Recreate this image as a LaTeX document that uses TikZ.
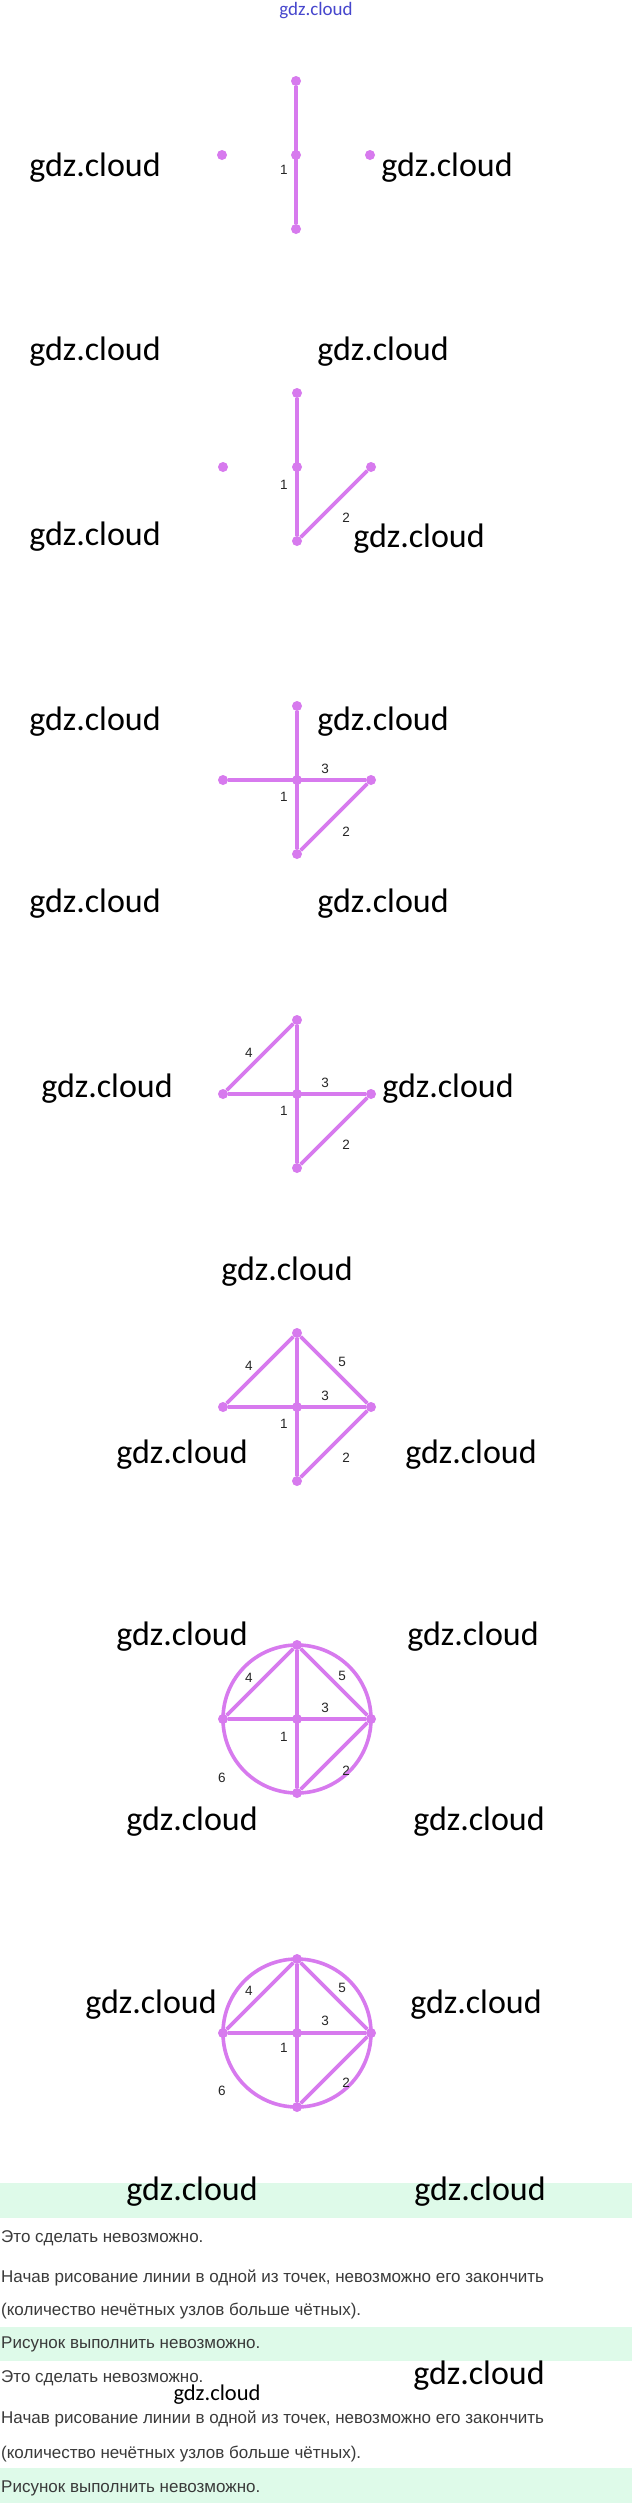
\documentclass[tikz,border=0pt]{standalone}
\usepackage{fontspec}
\setmainfont{Liberation Sans}
\newfontfamily\carlito{Carlito}
\usetikzlibrary{positioning}

\definecolor{lilac}{RGB}{215,122,238}
\definecolor{bandgreen}{RGB}{222,250,233}
\definecolor{notegray}{RGB}{58,58,58}
\definecolor{topblue}{RGB}{70,70,205}

\newcommand{\wmfont}{\carlito\fontsize{34}{34}\selectfont}
\newcommand{\wmsmall}{\carlito\fontsize{22.5}{23}\selectfont}
\newcommand{\wmtop}{\carlito\fontsize{19}{19}\selectfont}
\newcommand{\numfont}{\fontsize{13.5}{14}\selectfont}
\newcommand{\notefont}{\fontsize{17}{18}\selectfont}

\begin{document}
\begin{tikzpicture}[x=1pt, y=1pt, node distance=74pt]
        \tikzstyle{dot}=[circle, fill=lilac, inner sep=0pt, minimum size=10pt]
        \tikzstyle{edge}=[draw=lilac, line width=3.6pt]
        \tikzstyle{num}=[font=\numfont, text=black!85, inner sep=0pt]
        \tikzstyle{wmark}=[font=\wmfont, anchor=base, inner sep=0pt]
        \tikzstyle{note}=[font=\notefont, text=notegray, anchor=base west, inner sep=0pt]

        \path[use as bounding box, fill=white] (0,0) rectangle (632,-2503);

        % green answer bands
        \fill[bandgreen] (0,-2183) rectangle (632,-2218);
        \fill[bandgreen] (0,-2327) rectangle (632,-2361);
        \fill[bandgreen] (0,-2468) rectangle (632,-2503);

        \node[font=\wmtop, text=topblue, inner sep=0pt] (wm0) at (316,-11) {gdz.cloud};

        % step 1
        \node[dot] (mid1) at (296,-155) {};
        \node[dot, above of=mid1] (top1) {};
        \node[dot, below of=mid1] (bot1) {};
        \node[dot, left of=mid1] (lft1) {};
        \node[dot, right of=mid1] (rgt1) {};
        \draw[edge] (top1) -- (bot1);
        \node[num, xshift=-12pt, yshift=-15pt] (n1a) at (mid1) {1};

        % step 2
        \node[dot] (mid2) at (297,-467) {};
        \node[dot, above of=mid2] (top2) {};
        \node[dot, below of=mid2] (bot2) {};
        \node[dot, left of=mid2] (lft2) {};
        \node[dot, right of=mid2] (rgt2) {};
        \draw[edge] (top2) -- (bot2);
        \draw[edge] (bot2) -- (rgt2);
        \node[num, xshift=-13pt, yshift=-18pt] (n2a) at (mid2) {1};
        \node[num, xshift=49pt, yshift=-51pt] (n2b) at (mid2) {2};

        % step 3
        \node[dot] (mid3) at (297,-780) {};
        \node[dot, above of=mid3] (top3) {};
        \node[dot, below of=mid3] (bot3) {};
        \node[dot, left of=mid3] (lft3) {};
        \node[dot, right of=mid3] (rgt3) {};
        \draw[edge] (top3) -- (bot3);
        \draw[edge] (bot3) -- (rgt3);
        \draw[edge] (lft3) -- (rgt3);
        \node[num, xshift=-13pt, yshift=-17pt] (n3a) at (mid3) {1};
        \node[num, xshift=49pt, yshift=-52pt] (n3b) at (mid3) {2};
        \node[num, xshift=28pt, yshift=11pt] (n3c) at (mid3) {3};

        % step 4
        \node[dot] (mid4) at (297,-1094) {};
        \node[dot, above of=mid4] (top4) {};
        \node[dot, below of=mid4] (bot4) {};
        \node[dot, left of=mid4] (lft4) {};
        \node[dot, right of=mid4] (rgt4) {};
        \draw[edge] (top4) -- (bot4);
        \draw[edge] (bot4) -- (rgt4);
        \draw[edge] (lft4) -- (rgt4);
        \draw[edge] (lft4) -- (top4);
        \node[num, xshift=-13pt, yshift=-17pt] (n4a) at (mid4) {1};
        \node[num, xshift=49pt, yshift=-51pt] (n4b) at (mid4) {2};
        \node[num, xshift=28pt, yshift=11pt] (n4c) at (mid4) {3};
        \node[num, xshift=-48pt, yshift=41pt] (n4d) at (mid4) {4};

        % step 5
        \node[dot] (mid5) at (297,-1407) {};
        \node[dot, above of=mid5] (top5) {};
        \node[dot, below of=mid5] (bot5) {};
        \node[dot, left of=mid5] (lft5) {};
        \node[dot, right of=mid5] (rgt5) {};
        \draw[edge] (top5) -- (bot5);
        \draw[edge] (bot5) -- (rgt5);
        \draw[edge] (lft5) -- (rgt5);
        \draw[edge] (lft5) -- (top5);
        \draw[edge] (top5) -- (rgt5);
        \node[num, xshift=-13pt, yshift=-17pt] (n5a) at (mid5) {1};
        \node[num, xshift=49pt, yshift=-51pt] (n5b) at (mid5) {2};
        \node[num, xshift=28pt, yshift=11pt] (n5c) at (mid5) {3};
        \node[num, xshift=-48pt, yshift=41pt] (n5d) at (mid5) {4};
        \node[num, xshift=45pt, yshift=45pt] (n5e) at (mid5) {5};

        % step 6
        \node[dot] (mid6) at (297,-1719) {};
        \node[dot, above of=mid6] (top6) {};
        \node[dot, below of=mid6] (bot6) {};
        \node[dot, left of=mid6] (lft6) {};
        \node[dot, right of=mid6] (rgt6) {};
        \draw[edge] (mid6) circle (74pt);
        \draw[edge] (top6) -- (bot6);
        \draw[edge] (bot6) -- (rgt6);
        \draw[edge] (lft6) -- (rgt6);
        \draw[edge] (lft6) -- (top6);
        \draw[edge] (top6) -- (rgt6);
        \node[num, xshift=-13pt, yshift=-18pt] (n6a) at (mid6) {1};
        \node[num, xshift=49pt, yshift=-52pt] (n6b) at (mid6) {2};
        \node[num, xshift=28pt, yshift=11pt] (n6c) at (mid6) {3};
        \node[num, xshift=-48pt, yshift=41pt] (n6d) at (mid6) {4};
        \node[num, xshift=45pt, yshift=43pt] (n6e) at (mid6) {5};
        \node[num, xshift=-75pt, yshift=-59pt] (n6f) at (mid6) {6};

        % step 7
        \node[dot] (mid7) at (297,-2033) {};
        \node[dot, above of=mid7] (top7) {};
        \node[dot, below of=mid7] (bot7) {};
        \node[dot, left of=mid7] (lft7) {};
        \node[dot, right of=mid7] (rgt7) {};
        \draw[edge] (mid7) circle (74pt);
        \draw[edge] (top7) -- (bot7);
        \draw[edge] (bot7) -- (rgt7);
        \draw[edge] (lft7) -- (rgt7);
        \draw[edge] (lft7) -- (top7);
        \draw[edge] (top7) -- (rgt7);
        \node[num, xshift=-13pt, yshift=-15pt] (n7a) at (mid7) {1};
        \node[num, xshift=49pt, yshift=-50pt] (n7b) at (mid7) {2};
        \node[num, xshift=28pt, yshift=12pt] (n7c) at (mid7) {3};
        \node[num, xshift=-48pt, yshift=42pt] (n7d) at (mid7) {4};
        \node[num, xshift=45pt, yshift=45pt] (n7e) at (mid7) {5};
        \node[num, xshift=-75pt, yshift=-58pt] (n7f) at (mid7) {6};

        % answer text
        \node[note] (ln1) at (1,-2242) {Это сделать невозможно.};
        \node[note] (ln2) at (1,-2282) {Начав рисование линии в одной из точек, невозможно его закончить};
        \node[note] (ln3) at (1,-2315) {(количество нечётных узлов больше чётных).};
        \node[note] (ln4) at (1,-2348) {Рисунок выполнить невозможно.};
        \node[note] (ln5) at (1,-2382) {Это сделать невозможно.};
        \node[note] (ln6) at (1,-2423) {Начав рисование линии в одной из точек, невозможно его закончить};
        \node[note] (ln7) at (1,-2458) {(количество нечётных узлов больше чётных).};
        \node[note] (ln8) at (1,-2492) {Рисунок выполнить невозможно.};

        % watermarks
        \node[wmark] (wm1a) at (95,-176) {gdz.cloud};
        \node[wmark] (wm1b) at (447,-176) {gdz.cloud};
        \node[wmark] (wm2a) at (95,-360) {gdz.cloud};
        \node[wmark] (wm2b) at (383,-360) {gdz.cloud};
        \node[wmark] (wm3a) at (95,-545) {gdz.cloud};
        \node[wmark] (wm3b) at (419,-547) {gdz.cloud};
        \node[wmark] (wm4a) at (95,-730) {gdz.cloud};
        \node[wmark] (wm4b) at (383,-730) {gdz.cloud};
        \node[wmark] (wm5a) at (95,-912) {gdz.cloud};
        \node[wmark] (wm5b) at (383,-912) {gdz.cloud};
        \node[wmark] (wm6a) at (107,-1097) {gdz.cloud};
        \node[wmark] (wm6b) at (448,-1097) {gdz.cloud};
        \node[wmark] (wm7a) at (287,-1280) {gdz.cloud};
        \node[wmark] (wm8a) at (182,-1463) {gdz.cloud};
        \node[wmark] (wm8b) at (471,-1463) {gdz.cloud};
        \node[wmark] (wm9a) at (182,-1645) {gdz.cloud};
        \node[wmark] (wm9b) at (473,-1645) {gdz.cloud};
        \node[wmark] (wm10a) at (192,-1830) {gdz.cloud};
        \node[wmark] (wm10b) at (479,-1830) {gdz.cloud};
        \node[wmark] (wm11a) at (151,-2013) {gdz.cloud};
        \node[wmark] (wm11b) at (476,-2013) {gdz.cloud};
        \node[wmark] (wm12a) at (192,-2200) {gdz.cloud};
        \node[wmark] (wm12b) at (480,-2200) {gdz.cloud};
        \node[wmark] (wm13b) at (479,-2384) {gdz.cloud};
        \node[wmark, font=\wmsmall] (wm13a) at (217,-2400) {gdz.cloud};
    \end{tikzpicture}
\end{document}
